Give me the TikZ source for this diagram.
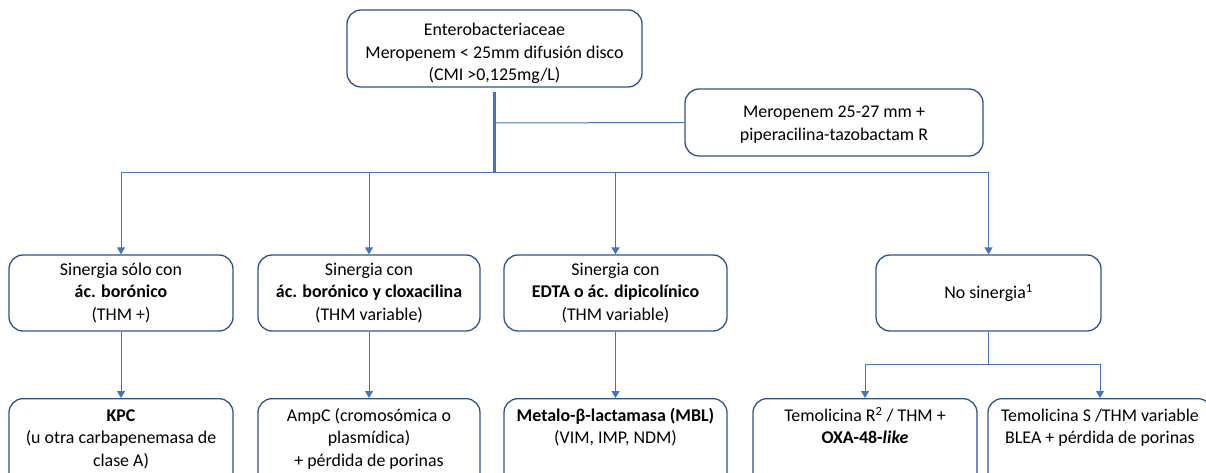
\documentclass[tikz,border=0pt]{standalone}
\usepackage{fontspec}
\setmainfont{Carlito}
\usetikzlibrary{arrows.meta}
\definecolor{bordc}{HTML}{2F528F}
\definecolor{linec}{HTML}{4472C4}
\begin{document}
\begin{tikzpicture}[x=1pt,y=-1pt,
 box/.style={draw=bordc, line width=1.3pt, rounded corners=14pt, fill=white, align=center, inner sep=0pt, font=\fontsize{17.9}{22.5}\selectfont},
 midbox/.style={box, minimum height=76pt},
 leaf/.style={box, anchor=north, minimum height=90pt},
 conn/.style={draw=linec, line width=1pt},
 arr/.style={conn, -{Triangle[width=8pt,length=7pt]}},
 trunk/.style={draw=linec, line width=2.5pt}]
\useasboundingbox (0,0) rectangle (1206,473);
\clip (0,0) rectangle (1206,473);
% top
\node[box, minimum width=295pt, minimum height=77pt] (top) at (494.5,48.5) {\parbox[c][77pt][t]{290pt}{\centering\vspace*{10pt}\strut Enterobacteriaceae\\Meropenem < 25mm difusión disco\\(CMI >0,125mg/L)}};
\node[box, minimum width=298pt, minimum height=67pt] (mero) at (834,122.5) {\parbox[c][67pt][t]{290pt}{\centering\vspace*{13pt}\strut Meropenem 25-27 mm +\\piperacilina-tazobactam R}};
% middle row
\node[midbox, minimum width=224pt] (b1) at (121,293) {Sinergia sólo con\\\textbf{ác. borónico}\\(THM +)};
\node[midbox, minimum width=222pt] (b2) at (369,293) {Sinergia con\\\textbf{ác. borónico y cloxacilina}\\(THM variable)};
\node[midbox, minimum width=223pt] (b3) at (615.5,293) {Sinergia con\\\textbf{EDTA o ác. dipicolínico}\\(THM variable)};
\node[midbox, minimum width=225pt] (b4) at (988.5,293) {No sinergia\textsuperscript{1}};
% leaves
\node[leaf, minimum width=224pt] (l1) at (121,398) {\parbox[c][76pt][t]{220pt}{\centering\strut\textbf{KPC}\\(u otra carbapenemasa de\\clase A)}};
\node[leaf, minimum width=222pt] (l2) at (369,398) {\parbox[c][76pt][t]{218pt}{\centering\strut AmpC (cromosómica o\\plasmídica)\\+ pérdida de porinas}};
\node[leaf, minimum width=223pt] (l3) at (615.5,398) {\parbox[c][76pt][t]{219pt}{\centering\strut\textbf{Metalo-β-lactamasa (MBL)}\\(VIM, IMP, NDM)}};
\node[leaf, minimum width=224pt] (l4) at (865,398) {\parbox[c][76pt][t]{220pt}{\centering\strut Temolicina R\textsuperscript{2} / THM +\\\textbf{OXA-48-\textit{like}}}};
\node[leaf, minimum width=224pt] (l5) at (1100,398) {\parbox[c][76pt][t]{220pt}{\centering\strut Temolicina S /THM variable\\BLEA + pérdida de porinas}};
% connectors
\coordinate (j1) at (494.5,123);
\coordinate (hub) at (494.5,173);
\coordinate (hub2) at (988.5,364);
\draw[trunk] ([yshift=-4pt]top.south) -- (hub);
\draw[conn] (j1) -- (mero.west);
\draw[conn] (b1.north |- hub) -- (b4.north |- hub);
\draw[arr] (b1.north |- hub) -- (b1.north);
\draw[arr] (b2.north |- hub) -- (b2.north);
\draw[arr] (b3.north |- hub) -- (b3.north);
\draw[arr] (b4.north |- hub) -- (b4.north);
\draw[arr] (b1.south) -- (l1.north);
\draw[arr] (b2.south) -- (l2.north);
\draw[arr] (b3.south) -- (l3.north);
\draw[conn] (b4.south) -- (hub2);
\draw[conn] (l4.north |- hub2) -- (l5.north |- hub2);
\draw[arr] (l4.north |- hub2) -- (l4.north);
\draw[arr] (l5.north |- hub2) -- (l5.north);
\end{tikzpicture}
\end{document}
